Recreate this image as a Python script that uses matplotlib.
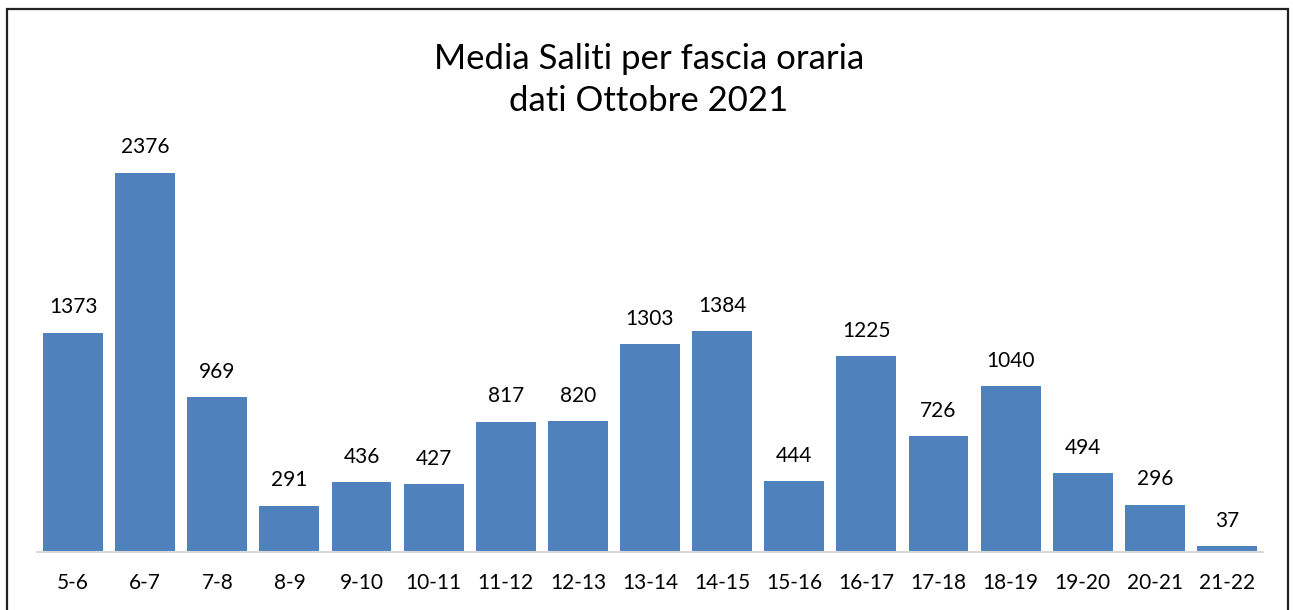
import matplotlib
matplotlib.use("Agg")
import matplotlib.pyplot as plt
from matplotlib.patches import Rectangle

fasce = ["5-6", "6-7", "7-8", "8-9", "9-10", "10-11", "11-12", "12-13", "13-14",
         "14-15", "15-16", "16-17", "17-18", "18-19", "19-20", "20-21", "21-22"]
saliti = [1373, 2376, 969, 291, 436, 427, 817, 820, 1303,
          1384, 444, 1225, 726, 1040, 494, 296, 37]

plt.rcParams['font.family'] = ['Lato', 'DejaVu Sans']

W, H = 1293, 610
fig = plt.figure(figsize=(W / 100, H / 100), dpi=100)
ax = fig.add_axes([37 / W, (H - 552) / H, (1263 - 37) / W, (552 - 130) / H])

x = range(len(fasce))
bars = ax.bar(x, saliti, width=0.83, color="#4F81BD", zorder=2)
for xi, v in zip(x, saliti):
    ax.annotate(str(v), (xi, v), xytext=(0, 11), textcoords="offset points",
                ha="center", va="bottom", fontsize=15, color="#000000")

ax.set_xlim(-0.5, len(fasce) - 0.5)
ax.set_ylim(0, 422 / 0.1597)
ax.set_xticks(list(x))
ax.set_xticklabels(fasce, fontsize=15)
ax.tick_params(axis="x", length=0, pad=15)
ax.set_yticks([])
for s in ["top", "right", "left"]:
    ax.spines[s].set_visible(False)
ax.spines["bottom"].set_color("#D9D9D9")
ax.spines["bottom"].set_linewidth(1.5)

fig.text(649 / W, 1 - 80 / H, "Media Saliti per fascia oraria\ndati Ottobre 2021",
         ha="center", va="center", fontsize=25, linespacing=1.4)

# outer frame
fig.patches.append(Rectangle((7 / W, -0.05), (1288 - 7) / W, 1.05 - 9 / H,
                             transform=fig.transFigure, fill=False,
                             edgecolor="#222222", linewidth=1.6))

fig.savefig("out.png", dpi=100)
